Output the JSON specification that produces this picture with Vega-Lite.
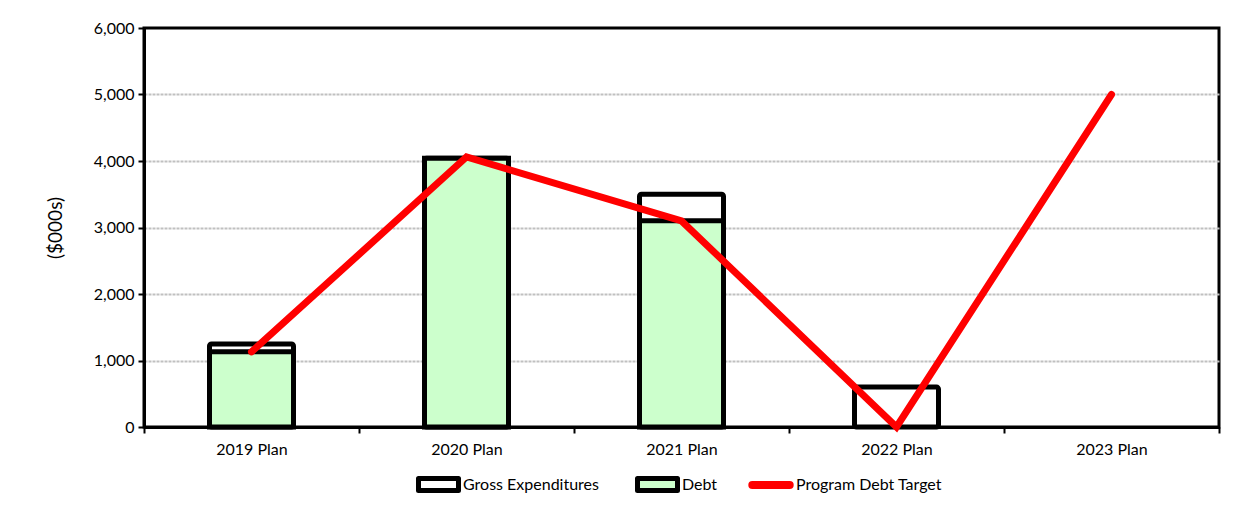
{
  "$schema": "https://vega.github.io/schema/vega-lite/v6.json",
  "autosize": {"type": "none"},
  "padding": {"left": 144, "top": 28, "right": 25, "bottom": 93},
  "width": 1075,
  "height": 399,
  "background": "white",
  "config": {
    "font": "Lato",
    "view": {"stroke": "black", "strokeWidth": 3}
  },
  "data": {
    "values": [
      {"plan": "2019 Plan", "series": "Gross Expenditures", "value": 1250},
      {"plan": "2020 Plan", "series": "Gross Expenditures", "value": 4040},
      {"plan": "2021 Plan", "series": "Gross Expenditures", "value": 3500},
      {"plan": "2022 Plan", "series": "Gross Expenditures", "value": 600},
      {"plan": "2019 Plan", "series": "Debt", "value": 1130},
      {"plan": "2020 Plan", "series": "Debt", "value": 4040},
      {"plan": "2021 Plan", "series": "Debt", "value": 3100},
      {"plan": "2019 Plan", "series": "Program Debt Target", "value": 1130},
      {"plan": "2020 Plan", "series": "Program Debt Target", "value": 4060},
      {"plan": "2021 Plan", "series": "Program Debt Target", "value": 3100},
      {"plan": "2022 Plan", "series": "Program Debt Target", "value": 0},
      {"plan": "2023 Plan", "series": "Program Debt Target", "value": 5000}
    ]
  },
  "encoding": {
    "x": {
      "field": "plan", "type": "nominal",
      "scale": {"domain": ["2019 Plan", "2020 Plan", "2021 Plan", "2022 Plan", "2023 Plan"], "paddingInner": 0, "paddingOuter": 0},
      "axis": {"title": null, "labelAngle": 0, "labelFontSize": 16, "labelColor": "black", "labelPadding": 8,
               "domainColor": "black", "domainWidth": 3, "tickColor": "black", "tickWidth": 2, "tickSize": 6, "tickBand": "extent"}
    },
    "y": {
      "field": "value", "type": "quantitative",
      "scale": {"domain": [0, 6000], "nice": false},
      "axis": {"title": "($000s)", "titleFontSize": 19, "titleFontWeight": "normal", "titleColor": "black", "titlePadding": 28,
               "values": [0, 1000, 2000, 3000, 4000, 5000, 6000], "format": ",d",
               "labelFontSize": 16, "labelColor": "black", "labelPadding": 4,
               "domainColor": "black", "domainWidth": 3, "tickColor": "black", "tickWidth": 2, "tickSize": 6,
               "grid": true,
               "gridColor": {"condition": {"test": "datum.value === 6000 || datum.value === 0", "value": "transparent"}, "value": "#c0c0c0"},
               "gridWidth": 2, "gridDash": [3, 1]}
    }
  },
  "layer": [
    {
      "transform": [{"filter": "datum.series === 'Gross Expenditures'"}],
      "mark": {"type": "bar", "size": 84, "stroke": "black", "strokeWidth": 5, "opacity": 1, "cornerRadius": 2},
      "encoding": {
        "y": {"field": "value", "type": "quantitative", "stack": null},
        "fill": {
          "field": "series", "type": "nominal",
          "scale": {"domain": ["Gross Expenditures", "Debt"], "range": ["#ffffff", "#ccffcc"]},
          "legend": {
            "title": null, "orient": "none", "legendX": 272, "legendY": 434, "direction": "horizontal",
            "labelFontSize": 16, "labelColor": "black", "labelOffset": 2,
            "symbolSize": 1600, "columnPadding": 36,
            "symbolType": "M-1,-0.3H1V0.3H-1Z",
            "symbolStrokeColor": "black", "symbolStrokeWidth": 5, "symbolOpacity": 1,
            "encode": {"symbols": {"update": {"strokeJoin": {"value": "round"}}}}
          }
        }
      }
    },
    {
      "transform": [{"filter": "datum.series === 'Debt'"}],
      "mark": {"type": "bar", "size": 84, "stroke": "black", "strokeWidth": 5, "opacity": 1},
      "encoding": {
        "y": {"field": "value", "type": "quantitative", "stack": null},
        "fill": {"field": "series", "type": "nominal"}
      }
    },
    {
      "transform": [{"filter": "datum.series === 'Program Debt Target'"}],
      "mark": {"type": "line", "strokeWidth": 7, "strokeCap": "round", "strokeJoin": "miter"},
      "encoding": {
        "stroke": {
          "field": "series", "type": "nominal",
          "scale": {"domain": ["Program Debt Target"], "range": ["#ff0000"]},
          "legend": {
            "title": null, "orient": "none", "legendX": 604, "legendY": 434,
            "labelFontSize": 16, "labelColor": "black", "labelOffset": 2,
            "symbolSize": 1400, "symbolType": "M-1,0H1", "symbolStrokeWidth": 8,
            "encode": {"symbols": {"update": {"strokeCap": {"value": "round"}}}}
          }
        }
      }
    }
  ]
}
